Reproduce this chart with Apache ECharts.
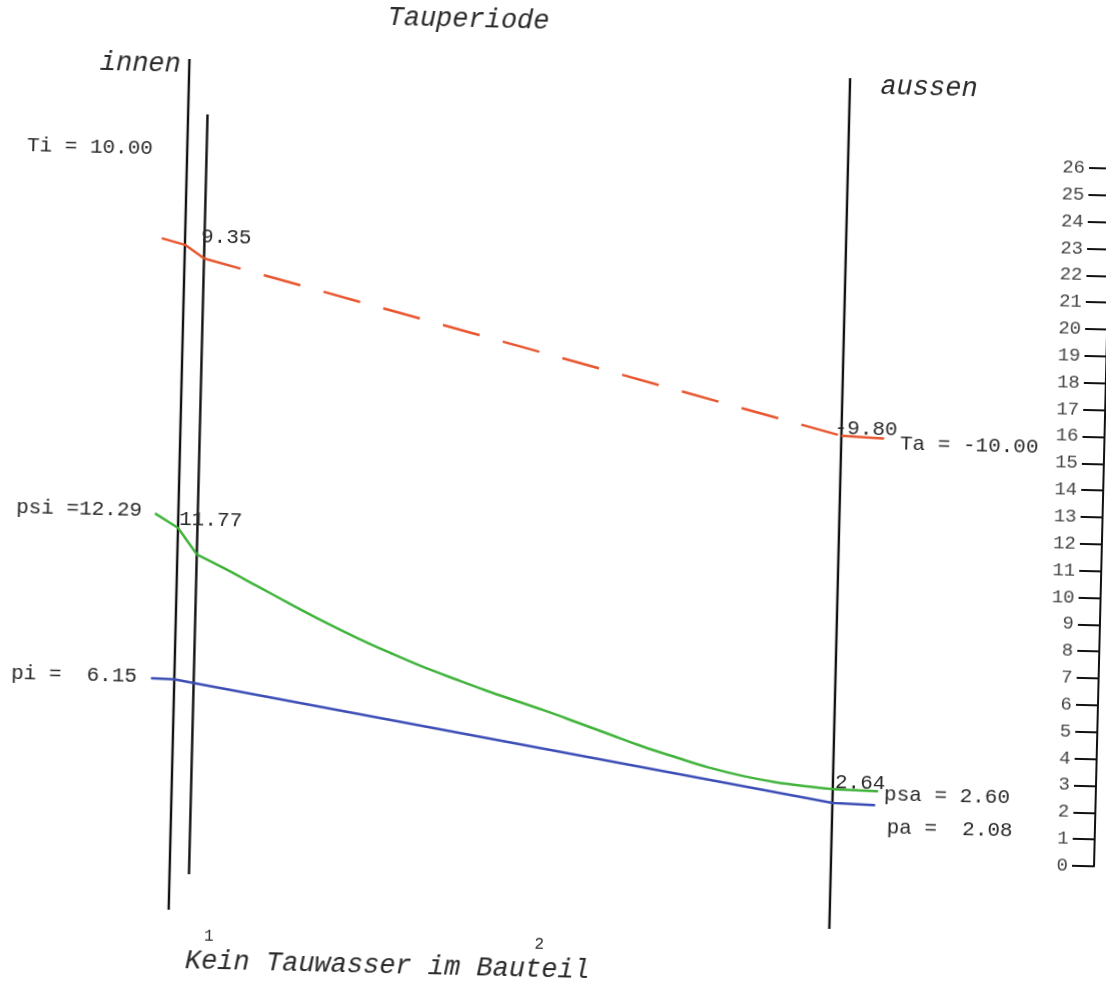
<!DOCTYPE html>
<html>
<head>
<meta charset="utf-8">
<title>Tauperiode</title>
<script src="https://cdn.jsdelivr.net/npm/echarts@6/dist/echarts.min.js"></script>
<style>
  html, body { margin: 0; padding: 0; background: #fff; overflow: hidden; }
  /* the scanned sheet is slightly skewed, so the whole drawing is turned a bit */
  #chart { width: 1106px; height: 984px; transform: rotate(1.4deg); transform-origin: 553px 492px; }
</style>
</head>
<body>
<div id="chart"></div>
<script>
// positions through the wall (cm): inner air, inner surface, layer boundary, outer surface, outer air
const nodeX = [-1.8, 0, 1.5, 51, 54.3];
const layerBounds = [0, 1.5, 51];
const layerNames = ["1", "2"];

// temperature [°C] at the nodes
const tempValues = [10.0, 9.35, 7.9, -9.8, -10.0];
// vapour pressure p [hPa] at the nodes
const vapourValues = [6.15, 6.13, 6.01, 2.12, 2.08];

// saturation pressure ps [hPa]
const satX = [-1.8, 0, 1.5, 3.5, 6.2, 8.8, 11.3, 14.0, 16.6, 19.1, 21.8, 24.4,
  28.5, 31.1, 33.7, 36.2, 38.9, 41.4, 44.0, 46.6, 49.2, 51, 54.5];
const satValues = [12.29, 11.77, 10.80, 10.34, 9.68, 9.04, 8.44, 7.84, 7.31, 6.83, 6.37, 5.94,
  5.32, 4.90, 4.47, 4.06, 3.67, 3.33, 3.05, 2.84, 2.71, 2.64, 2.60];

// pressure scale (right)
const pressureMin = 0;
const pressureMax = 26;
const pressureStep = 1;

const RED = "#e8552e";
const GREEN = "#3fb33a";
const BLUE = "#3b4db5";
const MONO = '"Liberation Mono", "Courier New", monospace';
const INK = "#2a2a2a";

function pairs(xs, ys, from, to) {
  const out = [];
  for (let i = from; i <= to; i++) out.push([xs[i], ys[i]]);
  return out;
}

const chart = echarts.init(document.getElementById("chart"));

const lineBase = { type: "line", symbol: "none", animation: false, silent: true };
const satLast = satX.length - 1;

chart.setOption({
  animation: false,
  grid: { left: 10, right: 3, top: 155, bottom: 131 },
  xAxis: { type: "value", show: false, min: -13.04, max: 71.3 },
  yAxis: [
    {
      type: "value",
      position: "right",
      min: pressureMin,
      max: pressureMax,
      interval: pressureStep,
      axisLine: { show: true, onZero: false, lineStyle: { color: "#111", width: 2 } },
      axisTick: { show: true, inside: true, length: 22, lineStyle: { color: "#111", width: 2 } },
      axisLabel: { inside: true, margin: 26, color: "#444", fontFamily: MONO, fontSize: 19 },
      splitLine: { show: false },
    },
    { type: "value", show: false, min: -56.24, max: 20.17 },
  ],
  series: [
    Object.assign({}, lineBase, {
      yAxisIndex: 1,
      data: pairs(nodeX, tempValues, 0, 2),
      lineStyle: { color: RED, width: 2.5 },
    }),
    Object.assign({}, lineBase, {
      yAxisIndex: 1,
      data: pairs(nodeX, tempValues, 2, 3),
      lineStyle: { color: RED, width: 2.5, type: [38, 24] },
    }),
    Object.assign({}, lineBase, {
      yAxisIndex: 1,
      data: pairs(nodeX, tempValues, 3, 4),
      lineStyle: { color: RED, width: 2.5 },
    }),
    Object.assign({}, lineBase, {
      yAxisIndex: 0,
      data: pairs(satX, satValues, 0, 2),
      lineStyle: { color: GREEN, width: 2.5 },
    }),
    Object.assign({}, lineBase, {
      yAxisIndex: 0,
      smooth: 0.4,
      data: pairs(satX, satValues, 2, satLast - 1),
      lineStyle: { color: GREEN, width: 2.5 },
    }),
    Object.assign({}, lineBase, {
      yAxisIndex: 0,
      data: pairs(satX, satValues, satLast - 1, satLast),
      lineStyle: { color: GREEN, width: 2.5 },
    }),
    Object.assign({}, lineBase, {
      yAxisIndex: 0,
      data: pairs(nodeX, vapourValues, 0, nodeX.length - 1),
      lineStyle: { color: BLUE, width: 2.5 },
    }),
  ],
});

function toPx(x, y, axis) {
  return chart.convertToPixel({ xAxisIndex: 0, yAxisIndex: axis }, [x, y]);
}

function text(x, y, str, font, align) {
  return {
    type: "text",
    x: x,
    y: y,
    z: 10,
    style: { text: str, font: font, fill: INK, align: align || "left", verticalAlign: "middle" },
  };
}

const graphics = [];

// wall and layer lines
const wallSpan = [[68, 919], [123, 883], [71, 922]];
layerBounds.forEach(function (b, i) {
  const x = chart.convertToPixel({ xAxisIndex: 0 }, b);
  graphics.push({
    type: "line",
    shape: { x1: x, y1: wallSpan[i][0], x2: x, y2: wallSpan[i][1] },
    style: { stroke: "#111", lineWidth: 2.4 },
  });
});

// value notes next to the curves
const labelFont = "21px " + MONO;
const last = nodeX.length - 1;
const notes = [
  [nodeX[0], tempValues[0], 1, "Ti = " + tempValues[0].toFixed(2), -11, -89, "right"],
  [nodeX[1], tempValues[1], 1, tempValues[1].toFixed(2), 16, -8, "left"],
  [nodeX[3], tempValues[3], 1, tempValues[3].toFixed(2), -7, -7, "left"],
  [nodeX[last], tempValues[last], 1, "Ta = " + tempValues[last].toFixed(2), 16, 5, "left"],
  [satX[0], satValues[0], 0, "psi =" + satValues[0].toFixed(2), -13, -3, "right"],
  [satX[1], satValues[1], 0, satValues[1].toFixed(2), 1, -9, "left"],
  [satX[satLast - 1], satValues[satLast - 1], 0, satValues[satLast - 1].toFixed(2), 2, -7, "left"],
  [satX[satLast], satValues[satLast], 0, "psa = " + satValues[satLast].toFixed(2), 6, 3, "left"],
  [nodeX[0], vapourValues[0], 0, "pi =  " + vapourValues[0].toFixed(2), -14, -1, "right"],
  [nodeX[last], vapourValues[last], 0, "pa =  " + vapourValues[last].toFixed(2), 12, 22, "left"],
];
notes.forEach(function (n) {
  const p = toPx(n[0], n[1], n[2]);
  graphics.push(text(p[0] + n[4], p[1] + n[5], n[3], labelFont, n[6]));
});

// layer numbers under the drawing
layerNames.forEach(function (name, i) {
  const mid = (layerBounds[i] + layerBounds[i + 1]) / 2;
  const x = chart.convertToPixel({ xAxisIndex: 0 }, mid) + 31;
  graphics.push(text(x, 945, name, "16px " + MONO, "center"));
});

// titles
const titleFont = "italic 27px " + MONO;
graphics.push(text(457, 22, "Tauperiode", titleFont, "center"));
graphics.push(text(130, 74, "innen", titleFont, "center"));
graphics.push(text(919, 79, "aussen", titleFont, "center"));
graphics.push(text(399, 970, "Kein Tauwasser im Bauteil", titleFont, "center"));

chart.setOption({ graphic: graphics });
</script>
</body>
</html>
